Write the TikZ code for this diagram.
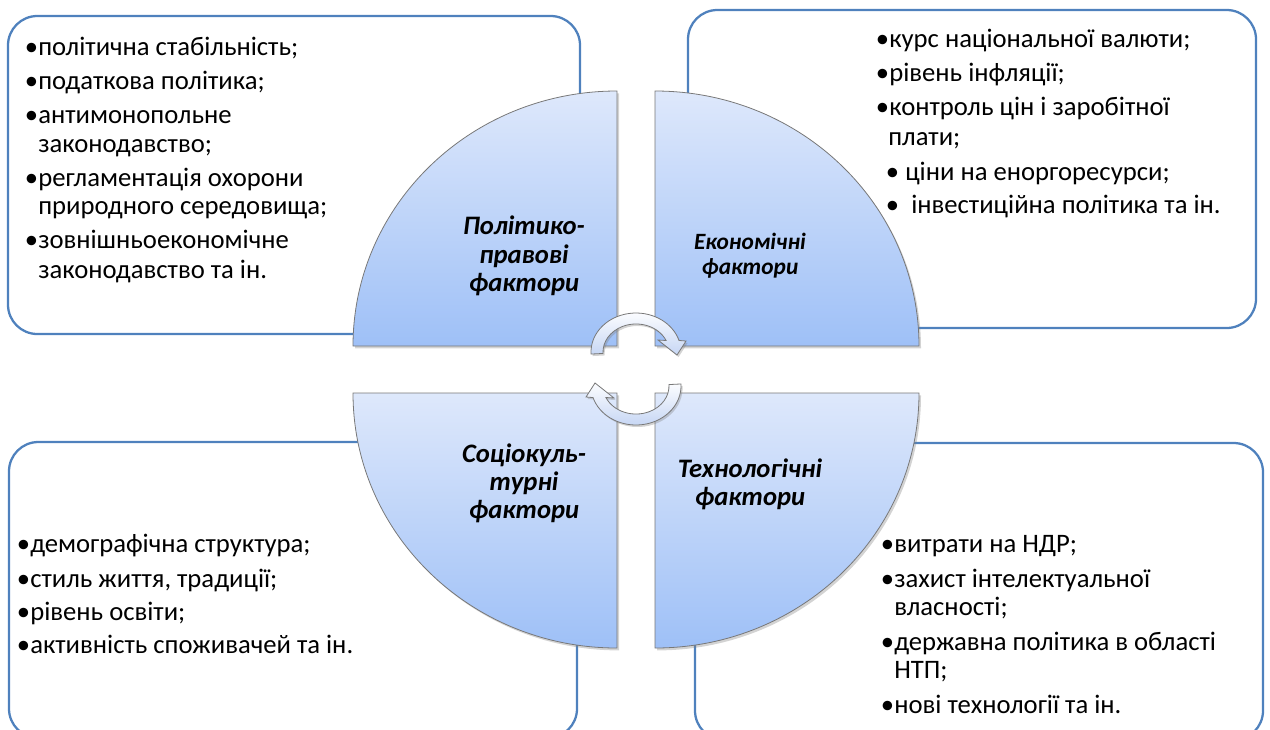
\documentclass[tikz,border=0pt]{standalone}
\usepackage{fontspec}
\setmainfont{Carlito}
\usetikzlibrary{shadows}

\definecolor{boxline}{RGB}{79,129,189}
\definecolor{pielight}{RGB}{222,232,251}
\definecolor{piedark}{RGB}{158,192,247}
\definecolor{pieedge}{RGB}{120,120,120}
\definecolor{cyclight}{RGB}{252,253,255}
\definecolor{cycdark}{RGB}{198,214,244}

\newcommand{\bul}{\llap{•}}
\newcommand{\itemfont}{\fontsize{20}{24}\selectfont}
\newcommand{\factfont}{\fontsize{20}{24}\selectfont\bfseries\itshape}
\newcommand{\factfontsm}{\fontsize{17.5}{21}\selectfont\bfseries\itshape}

\begin{document}
\begin{tikzpicture}[x=0.75pt, y=-0.75pt,
		listbox/.style={draw=boxline, line width=1.7pt, rounded corners=22pt},
		pie/.style={draw=pieedge, line width=0.6pt, top color=pielight, bottom color=piedark,
			drop shadow={opacity=0.35, shadow xshift=1.5pt, shadow yshift=-1.8pt}},
		cycarrow/.style={draw=pieedge, line width=0.6pt, top color=cyclight, bottom color=cycdark,
			drop shadow={opacity=0.35, shadow xshift=1.2pt, shadow yshift=-1.5pt}},
		item/.style={anchor=base west, inner sep=0pt, font=\itemfont},
		factor/.style={anchor=base, inner sep=0pt, font=\factfont}]
		\useasboundingbox (0,0) rectangle (1270,729);
		
		%boxes
		\draw[listbox] (8,16) rectangle (580,334);
		\draw[listbox] (688,10) rectangle (1256,328);
		\draw[listbox] (9,442) rectangle (577,738);
		\draw[listbox] (695,443) rectangle (1263,740);
		
		%quadrants
		\path[pie] (617,346) -- (353,346) arc[start angle=180, end angle=270, x radius=264, y radius=255] -- cycle;
		\path[pie] (655,346) -- (655,91) arc[start angle=270, end angle=360, x radius=264, y radius=255] -- cycle;
		\path[pie] (617,393) -- (353,393) arc[start angle=180, end angle=90, x radius=264, y radius=255] -- cycle;
		\path[pie] (655,393) -- (655,648) arc[start angle=90, end angle=0, x radius=264, y radius=255] -- cycle;
		
		%cycle arrows
		\begin{scope}[shift={(636,352)}, yscale=-1]
			\path[cycarrow] (183:45 and 39) arc[start angle=183, end angle=17.2, x radius=45, y radius=39]
				-- (50,11) -- (41,-3) -- (22,12) -- (30.1,11.5)
				arc[start angle=24.2, end angle=183, x radius=33, y radius=28] -- cycle;
		\end{scope}
		\begin{scope}[shift={(636,386)}, xscale=-1]
			\path[cycarrow] (183:45 and 39) arc[start angle=183, end angle=17.2, x radius=45, y radius=39]
				-- (50,11) -- (41,-3) -- (22,12) -- (30.1,11.5)
				arc[start angle=24.2, end angle=183, x radius=33, y radius=28] -- cycle;
		\end{scope}
		
		%factor names
		\foreach \y/\t [count=\i] in {234/Політико-, 263/правові, 291/фактори}
			\node[factor] (pol\i) at (524,\y) {\t};
		\foreach \y/\t [count=\i] in {249/Економічні, 274/фактори}
			\node[factor, font=\factfontsm] (eco\i) at (750,\y) {\t};
		\foreach \y/\t [count=\i] in {462/Соціокуль-, 490/турні, 518/фактори}
			\node[factor] (soc\i) at (524,\y) {\t};
		\foreach \y/\t [count=\i] in {477/Технологічні, 505/фактори}
			\node[factor] (tech\i) at (750,\y) {\t};
		
		%lists
		\foreach \y/\t [count=\i] in {55/{\bul політична стабільність;}, 89/{\bul податкова політика;},
			123/{\bul антимонопольне}, 152/{законодавство;}, 186/{\bul регламентація охорони},
			214/{природного середовища;}, 248/{\bul зовнішньоекономічне}, 278/{законодавство та ін.}}
			\node[item] (pl\i) at (38,\y) {\t};
		\foreach \x/\y/\t [count=\i] in {889/47/{\bul курс національної валюти;}, 889/81/{\bul рівень інфляції;},
			889/115/{\bul контроль цін і заробітної}, 888/145/{плати;},
			905/180/{\llap{•\ }ціни на еноргоресурси;}, 911/213/{\llap{•\ \ }інвестиційна політика та ін.}}
			\node[item] (ek\i) at (\x,\y) {\t};
		\foreach \y/\t [count=\i] in {552/{\bul демографічна структура;}, 587/{\bul стиль життя, традиції;},
			620/{\bul рівень освіти;}, 653/{\bul активність споживачей та ін.}}
			\node[item] (sk\i) at (30,\y) {\t};
		\foreach \y/\t [count=\i] in {552/{\bul витрати на НДР;}, 587/{\bul захист інтелектуальної},
			615/{власності;}, 650/{\bul державна політика в області}, 678/{НТП;}, 713/{\bul нові технології та ін.}}
			\node[item] (tl\i) at (894,\y) {\t};
\end{tikzpicture}
\end{document}
